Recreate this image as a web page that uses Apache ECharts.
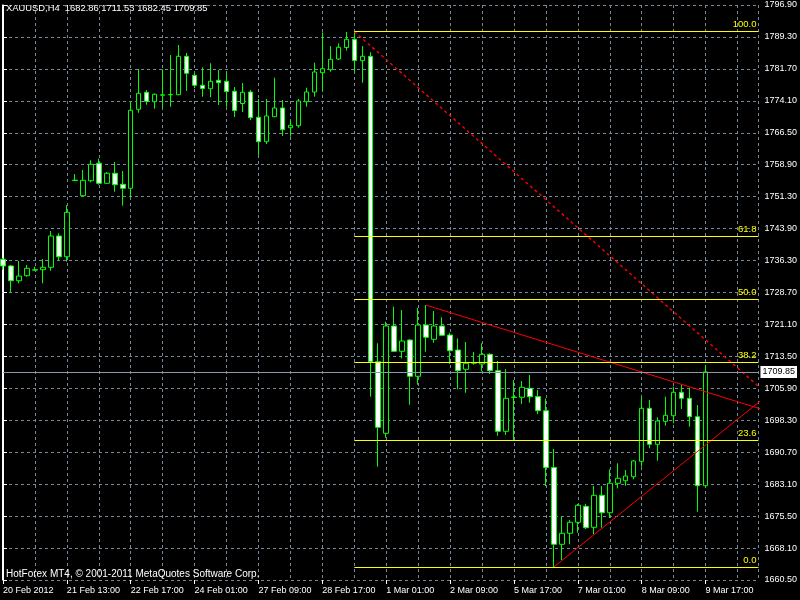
<!DOCTYPE html>
<html><head><meta charset="utf-8">
<script src="https://cdn.jsdelivr.net/npm/echarts@6/dist/echarts.min.js"></script>
<style>html,body{margin:0;padding:0;background:#000}#c{width:800px;height:600px}</style>
</head><body><div id="c"></div>
<script>
// ---------- data ----------
const symbolName = 'XAUUSD';
const timeframe = 'H4';
const copyrightText = 'HotForex MT4, © 2001-2011 MetaQuotes Software Corp.';
const xTickLabels = ['20 Feb 2012','21 Feb 13:00','22 Feb 17:00','24 Feb 01:00','27 Feb 09:00','28 Feb 17:00',
  '1 Mar 01:00','2 Mar 09:00','5 Mar 17:00','7 Mar 01:00','8 Mar 09:00','9 Mar 17:00'];
const yTickLabels = ['1660.50','1668.10','1675.50','1683.10','1690.70','1698.30','1705.90','1713.50','1721.10',
  '1728.70','1736.30','1743.90','1751.30','1758.90','1766.50','1774.10','1781.70','1789.30','1796.90'];
const open = [1736.57,1734.99,1731.50,1732.68,1734.00,1734.11,1734.68,1742.10,1737.19,1755.25,
  1751.66,1755.22,1759.35,1754.60,1756.98,1754.37,1753.42,1772.16,1776.19,1773.96,
  1775.50,1775.60,1775.62,1784.73,1780.22,1777.85,1777.04,1779.04,1778.80,1776.43,
  1773.53,1776.26,1770.26,1764.47,1770.40,1772.47,1767.79,1768.27,1773.96,1776.26,
  1780.84,1781.55,1784.09,1786.82,1788.76,1783.69,1784.73,1712.28,1695.30,1720.75,
  1714.75,1717.43,1708.82,1720.99,1717.60,1720.75,1718.62,1715.06,1710.48,1711.95,
  1711.74,1714.04,1710.15,1695.77,1703.80,1703.84,1705.97,1704.03,1700.66,1687.19,
  1668.97,1671.58,1674.19,1677.98,1673.00,1680.59,1676.46,1683.44,1684.05,1685.00,
  1688.66,1701.23,1692.69,1698.14,1699.47,1705.02,1703.60,1699.24,1682.86];
const high = [1736.88,1735.22,1736.17,1735.22,1734.82,1736.65,1743.29,1742.74,1749.38,1756.81,
  1757.76,1760.06,1760.44,1757.28,1759.66,1757.52,1773.96,1781.72,1776.74,1775.95,
  1781.65,1785.04,1787.41,1785.51,1780.70,1782.12,1783.07,1781.48,1780.77,1777.45,
  1778.40,1776.74,1774.60,1774.60,1779.65,1774.36,1769.62,1774.60,1777.28,1783.21,
  1790.40,1787.17,1787.81,1790.50,1790.60,1787.17,1785.68,1716.65,1721.77,1725.33,
  1724.55,1717.60,1725.09,1725.70,1724.31,1722.82,1719.16,1717.83,1716.96,1714.58,
  1716.65,1714.28,1712.45,1710.48,1707.94,1707.71,1709.13,1705.57,1703.55,1691.57,
  1675.52,1674.73,1678.53,1678.53,1682.80,1682.80,1686.71,1688.18,1686.59,1688.96,
  1703.84,1703.20,1699.09,1703.98,1706.35,1706.92,1706.12,1702.01,1711.53];
const low = [1734.04,1728.75,1730.88,1732.45,1733.87,1730.88,1733.87,1736.24,1736.01,1755.20,
  1751.42,1754.84,1754.27,1754.55,1752.61,1749.29,1751.28,1771.35,1773.25,1772.30,
  1772.54,1772.77,1775.50,1776.50,1777.21,1775.15,1775.00,1773.18,1772.77,1770.33,
  1771.52,1769.62,1761.32,1763.93,1770.30,1765.82,1765.66,1767.79,1772.77,1775.15,
  1776.50,1781.08,1783.85,1786.11,1780.89,1778.47,1703.98,1687.38,1694.25,1714.58,
  1713.09,1702.08,1706.83,1714.66,1716.79,1718.40,1711.74,1705.74,1704.93,1711.57,
  1710.01,1709.37,1694.73,1694.90,1693.47,1702.25,1702.56,1699.88,1682.80,1663.60,
  1665.24,1668.97,1671.72,1672.60,1671.34,1672.90,1675.21,1682.25,1682.87,1684.39,
  1687.38,1691.74,1688.80,1697.10,1697.67,1701.06,1696.86,1676.70,1682.45];
const close = [1734.99,1731.50,1732.61,1734.44,1734.10,1734.68,1742.10,1737.19,1747.72,1755.35,
  1755.31,1759.11,1754.60,1756.98,1754.27,1753.42,1771.92,1775.95,1774.06,1775.72,
  1775.60,1775.65,1784.73,1780.70,1777.85,1777.09,1778.80,1778.47,1776.38,1771.87,
  1776.19,1770.17,1764.47,1770.57,1772.47,1767.32,1768.36,1774.13,1776.26,1781.01,
  1781.79,1784.02,1786.87,1788.76,1783.73,1784.73,1712.28,1696.72,1720.75,1714.75,
  1717.19,1708.82,1720.99,1718.07,1720.75,1718.55,1714.89,1710.15,1711.90,1712.00,
  1714.04,1710.15,1695.77,1703.60,1703.90,1706.21,1703.98,1700.66,1687.19,1668.97,
  1671.58,1674.19,1678.22,1672.90,1680.59,1676.46,1683.44,1684.62,1685.17,1688.73,
  1701.23,1692.69,1698.22,1699.57,1705.02,1703.60,1699.24,1682.86,1709.85];
// Fibonacci retracement (anchor bar, 100% and 0% prices)
const fibStartBar = 44;
const fibHigh = 1790.60;
const fibLow = 1663.60;
const fibRatios = [1, 0.618, 0.5, 0.382, 0.236, 0];
const fibLabels = ['100.0','61.8','50.0','38.2','23.6','0.0'];
const fibBaseline = [[44, 1790.60], [120.4, 1663.60]];
// triangle trend lines [bar, price]
const triangleUpper = [[53, 1725.70], [100, 1698.09]];
const triangleLower = [[69, 1663.60], [100, 1710.81]];
const bidPrice = 1709.85;

// ---------- chart ----------
const X_MAX = 94.625;
const FONT = "'Liberation Sans', Arial, sans-serif";
const GRID_COLOR = '#778899';
const last = open.length - 1;
const candleData = open.map((o, i) => [i, o, close[i], low[i], high[i]]);
const titleText = `${symbolName},${timeframe}  ${open[last].toFixed(2)} ${high[last].toFixed(2)} ${low[last].toFixed(2)} ${close[last].toFixed(2)}`;
const txt = {color: '#fff', fontSize: 9, fontFamily: FONT, fontWeight: 'normal'};

const fibLines = fibRatios.map((r, i) => {
  const p = fibLow + r * (fibHigh - fibLow);
  return [{coord: [fibStartBar, p], name: fibLabels[i]}, {coord: [X_MAX, p]}];
});

const chart = echarts.init(document.getElementById('c'), null, {renderer: 'canvas'});
chart.setOption({
  backgroundColor: '#000',
  animation: false,
  title: [
    {text: titleText, left: 6, top: 4, padding: 0, textStyle: Object.assign({}, txt, {fontSize: 9.4})},
    {text: copyrightText, left: 6, top: 569, padding: 0, textStyle: Object.assign({}, txt, {fontSize: 10})}
  ],
  grid: {left: 3, right: 40, top: 5, bottom: 20},
  xAxis: [
    {type: 'value', min: 0, max: X_MAX, interval: 8,
     axisLine: {show: false},
     axisTick: {show: true, length: 4, lineStyle: {color: '#fff'}},
     axisLabel: Object.assign({}, txt, {align: 'left', margin: 6, showMaxLabel: false,
       formatter: v => (Number.isInteger(v / 8) && xTickLabels[v / 8]) ? xTickLabels[v / 8] : ''}),
     splitLine: {show: false}},
    {type: 'value', min: 0, max: X_MAX, interval: 4,
     axisLine: {show: false}, axisTick: {show: false}, axisLabel: {show: false},
     splitLine: {show: true, lineStyle: {color: GRID_COLOR, width: 1, type: [3, 3]}}}
  ],
  yAxis: [
    {type: 'value', min: 1660.5, max: 1796.9, position: 'right',
     axisLine: {show: true, lineStyle: {color: '#fff'}}, axisTick: {show: false},
     axisLabel: {show: false}, splitLine: {show: false}},
    {type: 'value', min: 0, max: yTickLabels.length - 1, interval: 1, position: 'right',
     axisLine: {show: false},
     axisTick: {show: true, length: 4, lineStyle: {color: '#fff'}},
     axisLabel: Object.assign({}, txt, {margin: 6, formatter: v => yTickLabels[v] || ''}),
     splitLine: {show: true, lineStyle: {color: GRID_COLOR, width: 1, type: [3, 3]}}},
    {type: 'value', min: 1660.5, max: 1796.9, position: 'left', offset: 1,
     axisLine: {show: true, lineStyle: {color: '#fff'}}, axisTick: {show: false},
     axisLabel: {show: false}, splitLine: {show: false}}
  ],
  series: [
    {type: 'candlestick', xAxisIndex: 0, yAxisIndex: 0, data: candleData, barWidth: 5, z: 3,
     itemStyle: {color: '#000', color0: '#fff', borderColor: '#00ff00', borderColor0: '#00ff00',
                 borderColorDoji: '#00ff00', borderWidth: 1},
     markLine: {silent: true, symbol: ['none', 'none'], animation: false,
       lineStyle: {color: '#8899aa', width: 1, type: 'solid'},
       label: {show: true, position: 'end', distance: 2, formatter: bidPrice.toFixed(2),
               backgroundColor: '#fff', color: '#000', fontSize: 9, fontFamily: FONT, padding: [2, 2, 1, 2]},
       data: [{yAxis: bidPrice}]}},
    {type: 'line', xAxisIndex: 0, yAxisIndex: 0, data: fibBaseline, symbol: 'none', clip: true, z: 4,
     lineStyle: {color: '#ff0000', width: 1.4, type: [3, 3]},
     markLine: {silent: true, symbol: ['none', 'none'], animation: false,
       lineStyle: {color: '#ffff00', width: 1, type: 'solid'},
       label: {show: true, position: 'insideEndTop', distance: 2, formatter: '{b}',
               color: '#ffff00', fontSize: 9.5, fontFamily: FONT},
       data: fibLines}},
    {type: 'line', xAxisIndex: 0, yAxisIndex: 0, data: triangleUpper, symbol: 'none', clip: true, z: 4,
     lineStyle: {color: '#ff0000', width: 1}},
    {type: 'line', xAxisIndex: 0, yAxisIndex: 0, data: triangleLower, symbol: 'none', clip: true, z: 4,
     lineStyle: {color: '#ff0000', width: 1}}
  ]
});
</script></body></html>
